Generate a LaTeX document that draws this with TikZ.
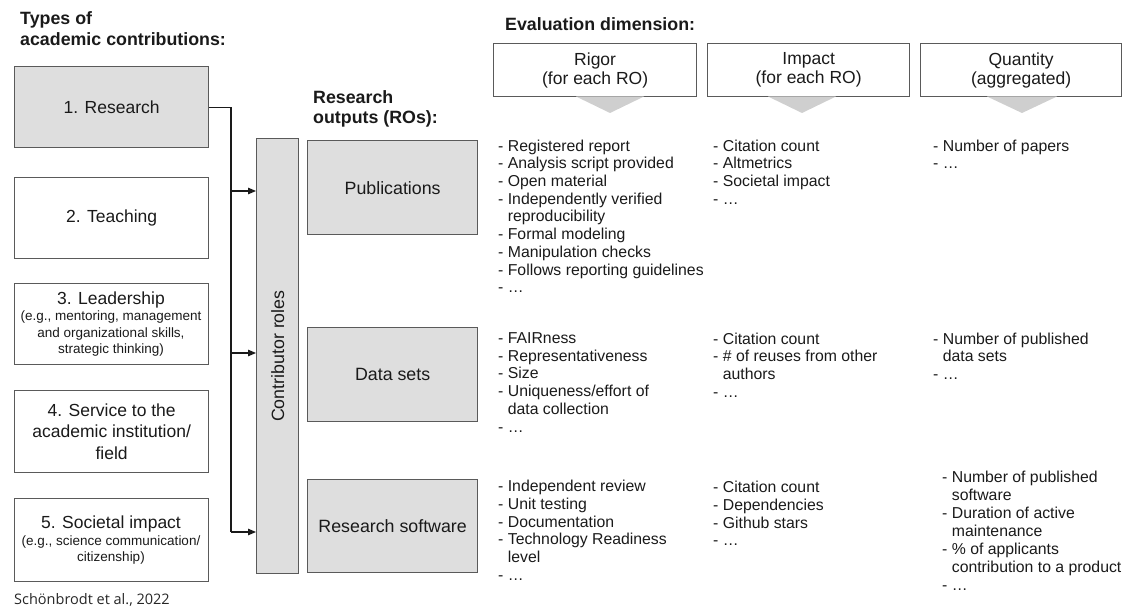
\documentclass[tikz,border=0pt]{standalone}
\usepackage{fontspec}
\setmainfont{Liberation Sans}
\newfontfamily\citefont{Open Sans}
\usetikzlibrary{arrows.meta}

\definecolor{boxgray}{HTML}{DEDEDE}
\definecolor{edgegray}{HTML}{5A5A5A}
\definecolor{inkgray}{HTML}{1A1A1A}
\definecolor{wedgegray}{HTML}{CFCFCF}

\newcommand{\contindent}{\hphantom{- }}

\tikzset{
  every node/.style={text=inkgray, inner sep=0pt},
  framebox/.style={draw=edgegray, line width=1.3pt, anchor=north west},
  leftbox/.style={framebox, minimum width=194pt},
  robox/.style={framebox, fill=boxgray, minimum width=170pt, font=\fontsize{17.8}{21}\selectfont},
  headbox/.style={framebox, minimum height=53pt, align=center, font=\fontsize{17.5}{19}\selectfont},
  mainlabel/.style={font=\fontsize{17.5}{21.3}\selectfont, align=center},
  sublabel/.style={font=\fontsize{13.5}{16.5}\selectfont, align=center},
  heading/.style={anchor=north west, align=left, font=\fontsize{17.8}{21}\selectfont\bfseries},
  itemlist/.style={anchor=north west, align=left, font=\fontsize{15.8}{17.7}\selectfont},
  feed/.style={draw=inkgray, line width=1.2pt},
  feedarrow/.style={feed, -{Triangle[length=8pt,width=6.5pt]}},
  wedge/.style={fill=wedgegray, draw=none}
}

\begin{document}
\begin{tikzpicture}[x=1pt, y=-1pt]
\useasboundingbox (0,0) rectangle (1124,609);

% column headings
\node[heading] (hcontrib) at (20,11) {Types of\\academic contributions:};
\node[heading, font=\fontsize{17.8}{20}\selectfont\bfseries] (houtputs) at (313,90) {Research\\outputs (ROs):};
\node[heading] (heval) at (505,17.5) {Evaluation dimension:};

% types of academic contributions
\node[leftbox, fill=boxgray, minimum height=81pt, font=\fontsize{17.5}{21}\selectfont] (b1) at (14,66) {1. Research};
\node[leftbox, minimum height=81pt, font=\fontsize{17.5}{21}\selectfont] (b2) at (14,177) {2. Teaching};
\node[leftbox, minimum height=81pt] (b3) at (14,283) {};
\node[mainlabel] (b3main) at (111,300) {3. Leadership};
\node[sublabel] (b3sub) at (111,334) {(e.g., mentoring, management\\and organizational skills,\\strategic thinking)};
\node[leftbox, minimum height=82pt, mainlabel] (b4) at (14,390) {4. Service to the\\academic institution/\\field};
\node[leftbox, minimum height=83pt] (b5) at (14,498) {};
\node[mainlabel] (b5main) at (111,524) {5. Societal impact};
\node[sublabel] (b5sub) at (111,550) {(e.g., science communication/\\citizenship)};

% contributor roles bar
\node[framebox, fill=boxgray, minimum width=42pt, minimum height=435pt] (cr) at (256,138) {};
\node[rotate=90, font=\fontsize{17.8}{21}\selectfont] (crtext) at (cr.center) {Contributor roles};

% connectors from the contributions into the roles bar
\coordinate (j1) at (231,191);
\coordinate (j2) at (231,353);
\coordinate (j3) at (231,532);
\draw[feed] (b1.east) -| (j3);
\draw[feedarrow] (j1) -- (cr.west |- j1);
\draw[feedarrow] (j2) -- (cr.west |- j2);
\draw[feedarrow] (j3) -- (cr.west |- j3);

% research outputs
\node[robox, minimum height=94pt] (pub) at (307,140) {Publications};
\node[robox, minimum height=94pt] (data) at (307,327) {Data sets};
\node[robox, minimum height=93pt] (soft) at (307,479) {Research software};

% evaluation dimensions
\node[headbox, minimum width=203pt] (rig) at (493,43) {Rigor\\(for each RO)};
\node[headbox, minimum width=202pt] (imp) at (707,43) {Impact\\(for each RO)};
\node[headbox, minimum width=201pt] (qty) at (920,43) {Quantity\\(aggregated)};
\fill[wedge] (576,96.5) -- (644,96.5) -- (610,113) -- cycle;
\fill[wedge] (768,96.5) -- (836,96.5) -- (802,113) -- cycle;
\fill[wedge] (987,96.5) -- (1057,96.5) -- (1022,113) -- cycle;

% rigor criteria
\node[itemlist] (rigpub) at (498,139.5) {- Registered report\\- Analysis script provided\\- Open material\\- Independently verified\\\contindent reproducibility\\- Formal modeling\\- Manipulation checks\\- Follows reporting guidelines\\- …};
\node[itemlist] (rigdata) at (498,332.5) {- FAIRness\\- Representativeness\\- Size\\- Uniqueness/effort of\\\contindent data collection\\- …};
\node[itemlist] (rigsoft) at (498,480) {- Independent review\\- Unit testing\\- Documentation\\- Technology Readiness\\\contindent level\\- …};

% impact criteria
\node[itemlist] (imppub) at (713,139.5) {- Citation count\\- Altmetrics\\- Societal impact\\- …};
\node[itemlist] (impdata) at (713,332.5) {- Citation count\\- \# of reuses from other\\\contindent authors\\- …};
\node[itemlist] (impsoft) at (713,481) {- Citation count\\- Dependencies\\- Github stars\\- …};

% quantity criteria
\node[itemlist] (qtypub) at (933,139.5) {- Number of papers\\- …};
\node[itemlist] (qtydata) at (933,332.5) {- Number of published\\\contindent data sets\\- …};
\node[itemlist, font=\fontsize{15.8}{18}\selectfont] (qtysoft) at (942,470.5) {- Number of published\\\contindent software\\- Duration of active\\\contindent maintenance\\- \% of applicants\\\contindent contribution to a product\\- …};

% source
\node[anchor=west, font=\citefont\fontsize{14.5}{17}\selectfont, text=black!85] (source) at (14,600) {Schönbrodt et al., 2022};
\end{tikzpicture}
\end{document}
